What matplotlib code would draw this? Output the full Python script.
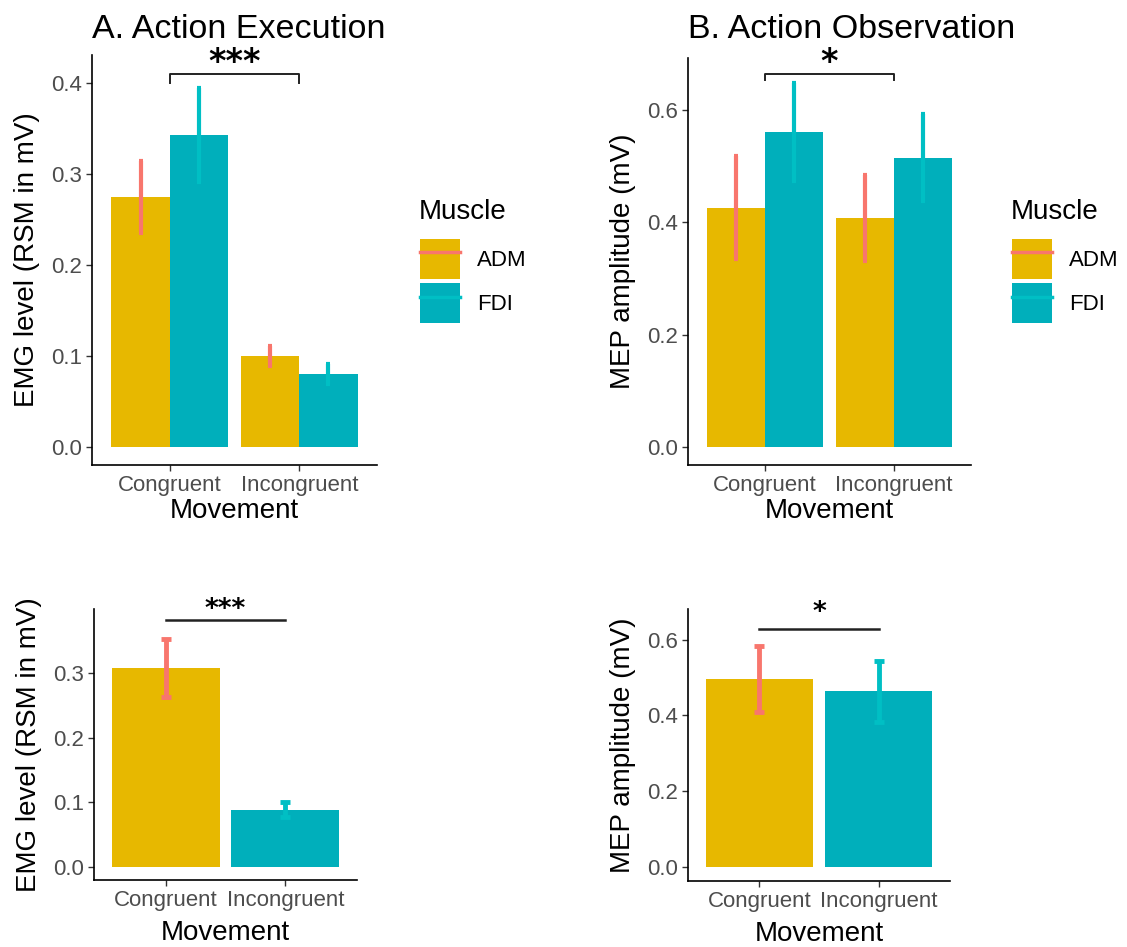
import matplotlib
matplotlib.use('Agg')
import matplotlib.pyplot as plt
from matplotlib.patches import Patch
from matplotlib.lines import Line2D
import numpy as np

plt.rcParams['font.family'] = ['Liberation Sans', 'DejaVu Sans']

# 数据
movements = ['Congruent', 'Incongruent']
muscles = ['ADM', 'FDI']

# A. 执行：EMG
exec_adm = [0.275, 0.100]
exec_adm_se = [0.040, 0.011]
exec_fdi = [0.343, 0.080]
exec_fdi_se = [0.052, 0.011]

# B. 观察：MEP
obs_adm = [0.426, 0.407]
obs_adm_se = [0.092, 0.077]
obs_fdi = [0.560, 0.515]
obs_fdi_se = [0.087, 0.078]

# 下方：按运动合并
exec_move = [0.308, 0.089]
exec_move_se = [0.045, 0.011]
obs_move = [0.497, 0.464]
obs_move_se = [0.087, 0.081]

# 显著性标注（横线高度，星号高度）
sig_exec = (0.410, 0.423, '***')
sig_obs = (0.663, 0.684, '*')
sig_exec_move = (0.382, 0.397, '***')
sig_obs_move = (0.628, 0.670, '*')

gold, teal = '#E7B800', '#00AFBB'
salmon, cyan = '#F8766D', '#00BFC4'
tick_grey = '#4D4D4D'

fig = plt.figure(figsize=(11.27, 9.47), dpi=100)
W, H = 1127, 947


def px_axes(l, t, r, b):
    return fig.add_axes([l / W, 1 - b / H, (r - l) / W, (b - t) / H])


def style(ax, ylim, yticks, ylabel, xpad=2):
    ax.set_xlim(0.4, 2.6)
    ax.set_ylim(*ylim)
    ax.set_yticks(yticks)
    ax.set_yticklabels(['%.1f' % v for v in yticks])
    ax.set_xticks([1, 2])
    ax.set_xticklabels(movements)
    for s in ['top', 'right']:
        ax.spines[s].set_visible(False)
    for s in ['left', 'bottom']:
        ax.spines[s].set_linewidth(1.2)
    ax.tick_params(axis='both', length=4, width=1, color='#333333',
                   labelsize=16, labelcolor=tick_grey, pad=3)
    ax.set_ylabel(ylabel, fontsize=20, labelpad=8)
    ax.set_xlabel('Movement', fontsize=20, labelpad=xpad)


def grouped(ax, adm, adm_se, fdi, fdi_se):
    x = np.arange(1, len(movements) + 1)
    w = 0.45
    ax.bar(x - w / 2, adm, width=w, color=gold, zorder=2)
    ax.bar(x + w / 2, fdi, width=w, color=teal, zorder=2)
    ax.errorbar(x - w / 2, adm, yerr=adm_se, fmt='none', ecolor=salmon,
                elinewidth=3, capsize=1.5, capthick=3, zorder=3)
    ax.errorbar(x + w / 2, fdi, yerr=fdi_se, fmt='none', ecolor=cyan,
                elinewidth=3, capsize=1.5, capthick=3, zorder=3)


def single(ax, vals, se):
    x = np.arange(1, len(movements) + 1)
    ax.bar(x, vals, width=0.9, color=[gold, teal], zorder=2)
    for xi, v, e, c in zip(x, vals, se, [salmon, cyan]):
        ax.errorbar(xi, v, yerr=e, fmt='none', ecolor=c, elinewidth=3.5,
                    capsize=3.5, capthick=3.5, zorder=3)


def bracket(ax, sig, drop, size):
    top, star_y, stars = sig
    if drop:
        ax.plot([1, 1, 2, 2], [top - drop, top, top, top - drop],
                color='#222222', lw=1.4, clip_on=False)
    else:
        ax.plot([1, 2], [top, top], color='#222222', lw=1.8, clip_on=False)
    ax.text(1.5, star_y, stars, ha='center', va='center', fontsize=size,
            fontweight='bold', family=['DejaVu Sans'], clip_on=False)


def legend(ax, x, y):
    # 图例标题单独放，拉开与色块的距离
    fig.text(x / W, 1 - y / H, 'Muscle', fontsize=20, va='center', ha='left')
    handles = [(Patch(facecolor=gold), Line2D([], [], color=salmon, lw=2.5)),
               (Patch(facecolor=teal), Line2D([], [], color=cyan, lw=2.5))]
    lg = ax.legend(handles, muscles, loc='upper left',
                   bbox_to_anchor=((x + 1) / W, 1 - (y + 27) / H),
                   bbox_transform=fig.transFigure, frameon=False,
                   fontsize=16, handlelength=1.8,
                   handleheight=2.4, labelspacing=0.18, handletextpad=0.75,
                   borderpad=0, borderaxespad=0)
    return lg


# 左上
axA = px_axes(92, 55, 377, 465)
grouped(axA, exec_adm, exec_adm_se, exec_fdi, exec_fdi_se)
style(axA, (-0.0198, 0.431), [0.0, 0.1, 0.2, 0.3, 0.4], 'EMG level (RSM in mV)')
bracket(axA, sig_exec, 0.01, 24)
legend(axA, 419, 212)
fig.text(92 / W, 1 - 38 / H, 'A. Action Execution', fontsize=24.5, va='baseline')

# 右上
axB = px_axes(688, 58, 971, 465)
grouped(axB, obs_adm, obs_adm_se, obs_fdi, obs_fdi_se)
style(axB, (-0.032, 0.692), [0.0, 0.2, 0.4, 0.6], 'MEP amplitude (mV)')
bracket(axB, sig_obs, 0.011, 24)
legend(axB, 1011, 212)
fig.text(688 / W, 1 - 38 / H, 'B. Action Observation', fontsize=24.5, va='baseline')

# 左下
axC = px_axes(94, 609, 357, 880)
single(axC, exec_move, exec_move_se)
style(axC, (-0.02, 0.399), [0.0, 0.1, 0.2, 0.3], 'EMG level (RSM in mV)', xpad=7)
bracket(axC, sig_exec_move, 0, 19)

# 右下
axD = px_axes(688, 609, 950, 881)
single(axD, obs_move, obs_move_se)
style(axD, (-0.037, 0.681), [0.0, 0.2, 0.4, 0.6], 'MEP amplitude (mV)', xpad=7)
bracket(axD, sig_obs_move, 0, 19)

fig.savefig('out.png', dpi=100)
